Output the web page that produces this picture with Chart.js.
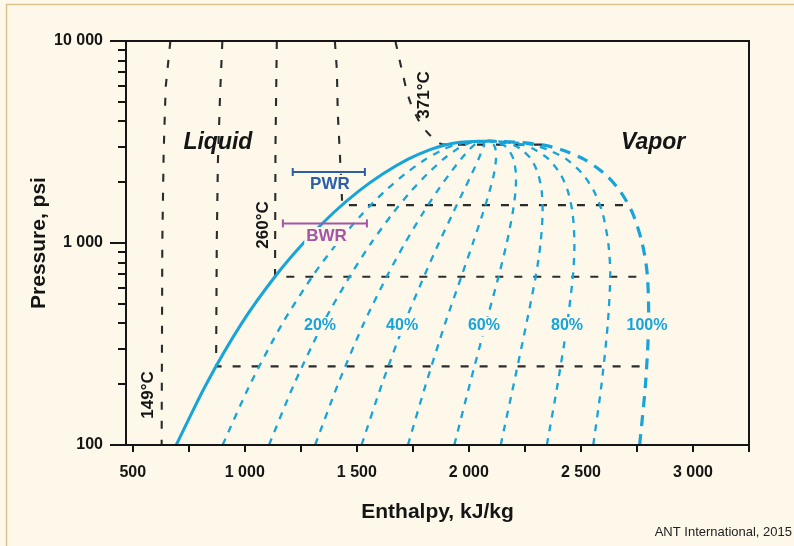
<!DOCTYPE html>
<html>
<head>
<meta charset="utf-8">
<script src="https://cdn.jsdelivr.net/npm/chart.js@4.4.1/dist/chart.umd.min.js"></script>
<style>
  html, body { margin: 0; padding: 0; background: #fdf8ea; }
  #wrap { width: 794px; height: 546px; }
</style>
</head>
<body>
<div id="wrap"><canvas id="chart" width="794" height="546"></canvas></div>
<script>
// pressure levels (psi) for the saturation dome and the quality lines
const pressures = [100, 200, 400, 700, 1000, 1400, 1800, 2200, 2600, 2900, 3050, 3150, 3200];
// enthalpy (kJ/kg) at those pressures
const satLiquid = [694, 828, 986, 1143, 1262, 1392, 1507, 1617, 1729, 1827, 1890, 1960, 2087];
const satVapor  = [2762, 2788, 2802, 2796, 2773, 2731, 2676, 2606, 2513, 2410, 2334, 2225, 2087];
const q10 = [901, 1024, 1168, 1308, 1413, 1526, 1624, 1716, 1807, 1885, 1934, 1987, 2087];
const q20 = [1108, 1220, 1349, 1474, 1564, 1660, 1741, 1815, 1886, 1944, 1979, 2013, 2087];
const q30 = [1314, 1416, 1531, 1639, 1715, 1794, 1858, 1914, 1964, 2002, 2023, 2040, 2087];
const q40 = [1521, 1612, 1712, 1804, 1866, 1928, 1975, 2013, 2043, 2060, 2068, 2066, 2087];
const q50 = [1728, 1808, 1894, 1970, 2018, 2062, 2092, 2112, 2121, 2119, 2112, 2093, 2087];
const q60 = [1935, 2004, 2076, 2135, 2169, 2195, 2208, 2210, 2199, 2177, 2156, 2119, 2087];
const q70 = [2142, 2200, 2257, 2300, 2320, 2329, 2325, 2309, 2278, 2235, 2201, 2146, 2087];
const q80 = [2348, 2396, 2439, 2465, 2471, 2463, 2442, 2408, 2356, 2293, 2245, 2172, 2087];
const q90 = [2555, 2592, 2620, 2631, 2622, 2597, 2559, 2507, 2435, 2352, 2290, 2199, 2087];

// isotherms: enthalpy / pressure pairs
const iso149H = [668, 647, 638, 632, 629];
const iso149P = [10000, 5900, 2800, 1000, 100];
const iso204H = [900, 890, 880, 875, 872, 2785];
const iso204P = [10000, 5500, 2500, 1000, 245, 245];
const iso260H = [1143, 1137, 1135, 2770];
const iso260P = [10000, 3000, 681, 681];
const iso316H = [1402, 1411, 1415, 1424, 1435, 2710];
const iso316P = [10000, 7185, 4400, 2820, 1540, 1540];
const iso371H = [1672, 1701, 1728, 1768, 1817, 1890, 2330];
const iso371P = [10000, 7185, 5402, 4203, 3505, 3070, 3070];

// reactor operating ranges
const pwrH = [1214, 1536];
const pwrP = 2246;
const bwrH = [1170, 1545];
const bwrP = 1250;

const xTicks = [500, 750, 1000, 1250, 1500, 1750, 2000, 2250, 2500, 2750, 3000, 3250];
const xTickLabels = ['500', '', '1 000', '', '1 500', '', '2 000', '', '2 500', '', '3 000', ''];
const yTicks = [100, 200, 300, 400, 500, 600, 700, 800, 900, 1000, 2000, 3000, 4000, 5000, 6000, 7000, 8000, 9000, 10000];
const yMajor = { 100: '100', 1000: '1 000', 10000: '10 000' };

const FONT = "'Liberation Sans', Arial, Helvetica, sans-serif";
const BLUE = '#16a4da';
const INK = '#151515';

const pts = (hs, ps) => hs.map((h, i) => ({ x: h, y: Array.isArray(ps) ? ps[i] : ps }));
const dome = (hs) => pts(hs, pressures);

const datasets = [];
datasets.push({ data: pts(pwrH, pwrP), borderColor: '#2a5ea9', borderWidth: 2, pointStyle: 'line',
  pointRadius: 4, pointRotation: 90, pointBorderWidth: 2, pointBorderColor: '#2a5ea9', tension: 0 });
datasets.push({ data: pts(bwrH, bwrP), borderColor: '#a455a6', borderWidth: 2, pointStyle: 'line',
  pointRadius: 4, pointRotation: 90, pointBorderWidth: 2, pointBorderColor: '#a455a6', tension: 0 });
datasets.push({ data: dome(satLiquid), borderColor: BLUE, borderWidth: 3, pointRadius: 0, cubicInterpolationMode: 'monotone' });
datasets.push({ data: dome(satVapor), borderColor: BLUE, borderWidth: 3.2, borderDash: [11, 8], pointRadius: 0, tension: 0.3 });
[q10, q20, q30, q40, q50, q60, q70, q80, q90].forEach(q => {
  datasets.push({ data: dome(q), borderColor: BLUE, borderWidth: 2.3, borderDash: [7, 7], pointRadius: 0, tension: 0.25 });
});
[[iso149H, iso149P], [iso204H, iso204P], [iso260H, iso260P], [iso316H, iso316P]].forEach(([h, p]) => {
  datasets.push({ data: pts(h, p), borderColor: '#2b2b2b', borderWidth: 2.1, borderDash: [8, 11], pointRadius: 0, tension: 0 });
});
datasets.push({ data: pts(iso371H, iso371P), borderColor: '#2b2b2b', borderWidth: 2.1, borderDash: [8, 11],
  pointRadius: 0, cubicInterpolationMode: 'monotone' });

// text placed in data coordinates
const notes = [
  { text: 'Liquid', h: 880, p: 3162, font: 'italic bold 23px', color: INK },
  { text: 'Vapor', h: 2822, p: 3162, font: 'italic bold 23px', color: INK },
  { text: '20%', h: 1336, p: 393, font: 'bold 16px', color: BLUE, box: true },
  { text: '40%', h: 1702, p: 393, font: 'bold 16px', color: BLUE, box: true },
  { text: '60%', h: 2067, p: 393, font: 'bold 16px', color: BLUE, box: true },
  { text: '80%', h: 2438, p: 393, font: 'bold 16px', color: BLUE, box: true },
  { text: '100%', h: 2795, p: 393, font: 'bold 16px', color: BLUE, box: true },
  { text: '149°C', h: 564, p: 177, font: 'bold 17px', color: INK, rot: true },
  { text: '260°C', h: 1077, p: 1228, font: 'bold 17px', color: INK, rot: true },
  { text: '371°C', h: 1795, p: 5404, font: 'bold 17px', color: INK, rot: true },
  { text: 'PWR', h: 1380, p: 1982, font: 'bold 17px', color: '#2a5ea9', box: true },
  { text: 'BWR', h: 1365, p: 1095, font: 'bold 17px', color: '#a455a6', box: true }
];

const decor = {
  id: 'decor',
  beforeDraw(chart) {
    const { ctx } = chart;
    ctx.save();
    ctx.fillStyle = '#fdf8ea';
    ctx.fillRect(0, 0, chart.width, chart.height);
    ctx.strokeStyle = '#dcc28c';
    ctx.lineWidth = 1.5;
    ctx.beginPath();
    ctx.moveTo(6.5, 546); ctx.lineTo(6.5, 4.5); ctx.lineTo(794, 4.5);
    ctx.stroke();
    ctx.restore();
  },
  afterDatasetsDraw(chart) {
    const { ctx, scales: { x, y } } = chart;
    notes.forEach(n => {
      const px = x.getPixelForValue(n.h), py = y.getPixelForValue(n.p);
      ctx.save();
      ctx.translate(px, py);
      if (n.rot) ctx.rotate(-Math.PI / 2);
      ctx.font = n.font + ' ' + FONT;
      ctx.textAlign = 'center';
      ctx.textBaseline = 'middle';
      if (n.box) {
        const w = ctx.measureText(n.text).width;
        ctx.fillStyle = '#fdf8ea';
        ctx.fillRect(-w / 2 - 2, -8, w + 4, 19);
      }
      ctx.fillStyle = n.color;
      ctx.fillText(n.text, 0, 1);
      ctx.restore();
    });
  },
  afterDraw(chart) {
    const { ctx, chartArea: a, scales: { y } } = chart;
    ctx.save();
    ctx.strokeStyle = INK;
    ctx.lineWidth = 2;
    ctx.strokeRect(a.left, a.top, a.right - a.left, a.bottom - a.top);
    // longer ticks at the decades
    Object.keys(yMajor).forEach(v => {
      const py = Math.round(y.getPixelForValue(+v));
      ctx.beginPath();
      ctx.moveTo(a.left - 16, py); ctx.lineTo(a.left - 7, py);
      ctx.stroke();
    });
    ctx.font = '13px ' + FONT;
    ctx.fillStyle = '#222';
    ctx.textAlign = 'right';
    ctx.textBaseline = 'middle';
    ctx.fillText('ANT International, 2015', 792, 532);
    ctx.restore();
  }
};

new Chart(document.getElementById('chart'), {
  type: 'line',
  data: { datasets },
  options: {
    responsive: false,
    animation: false,
    layout: { padding: { top: 41, right: 45, left: 0, bottom: 0 } },
    plugins: { legend: { display: false }, tooltip: { enabled: false } },
    scales: {
      x: {
        type: 'linear', min: 470, max: 3250,
        afterBuildTicks: s => { s.ticks = xTicks.map(v => ({ value: v })); },
        afterFit: s => { s.height = 101; },
        grid: { drawOnChartArea: false, drawTicks: true, tickLength: 7, color: INK, lineWidth: 2 },
        border: { display: true, color: INK, width: 2 },
        ticks: { callback: (v, i) => xTickLabels[i], autoSkip: false, maxRotation: 0, padding: 11,
          color: INK, font: { family: FONT, size: 16, weight: 'bold' } },
        title: { display: true, text: 'Enthalpy, kJ/kg', color: INK,
          font: { family: FONT, size: 21, weight: 'bold' }, padding: { top: 0, bottom: 21 } }
      },
      y: {
        type: 'logarithmic', min: 100, max: 10000,
        afterBuildTicks: s => { s.ticks = yTicks.map(v => ({ value: v })); },
        afterFit: s => { s.width = 126; },
        grid: { drawOnChartArea: false, drawTicks: true, tickLength: 8, color: INK, lineWidth: 2 },
        border: { display: true, color: INK, width: 2 },
        ticks: { callback: v => yMajor[v] || '', autoSkip: false, padding: 15,
          color: INK, font: { family: FONT, size: 16, weight: 'bold' } },
        title: { display: true, text: 'Pressure, psi', color: INK,
          font: { family: FONT, size: 21, weight: 'bold' }, padding: { top: 27, bottom: 0 } }
      }
    }
  },
  plugins: [decor]
});
</script>
</body>
</html>
